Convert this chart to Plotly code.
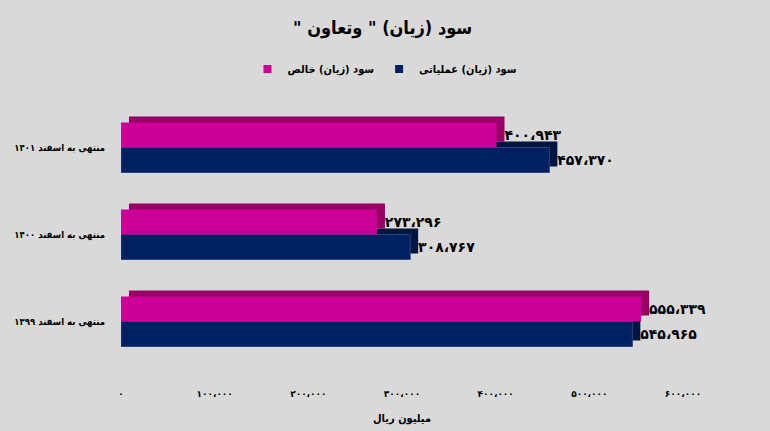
import plotly.graph_objects as go

categories = ["منتهی به اسفند ۱۳۹۹", "منتهی به اسفند ۱۴۰۰", "منتهی به اسفند ۱۴۰۱"]
operating = [545965, 308767, 457370]   # سود (زیان) عملیاتی
net = [555339, 273296, 400943]         # سود (زیان) خالص
tick_values = [0, 100000, 200000, 300000, 400000, 500000, 600000]

name_oper = "سود (زیان) عملیاتی"
name_net = "سود (زیان) خالص"
title_text = 'سود (زیان) " وتعاون "\u200f'
x_title = "میلیون ریال"

PINK = "#CC0099"
PINK_DARK = "#990066"
NAVY = "#002060"
NAVY_DARK = "#00153f"
BG = "#D9D9D9"
FONT = "DejaVu Sans"
FONT_C = "DejaVu Sans Condensed, DejaVu Sans"

def fa(n):
    s = f"{n:,}".replace(",", "،")
    return s.translate(str.maketrans("0123456789", "۰۱۲۳۴۵۶۷۸۹"))

W = 0.287      # bar thickness (category units)
DY = 0.07      # 3D depth (category units)
DX = 8500      # 3D depth (value units)

fig = go.Figure()

fig.add_trace(go.Bar(y=categories, x=operating, base=DX, orientation="h",
                     offset=-W + DY, width=W, marker=dict(color=NAVY_DARK, line=dict(width=0)),
                     showlegend=False, hoverinfo="skip"))
fig.add_trace(go.Bar(y=categories, x=operating, orientation="h",
                     offset=-W, width=W, marker=dict(color=NAVY, line=dict(width=1, color="#2a4585")),
                     text=["\u00a0" + fa(v) for v in operating], textposition="outside",
                     constraintext="none", cliponaxis=False,
                     textfont=dict(family=FONT, size=14, color="black", weight="bold"),
                     showlegend=False, name=name_oper))
fig.add_trace(go.Bar(y=categories, x=net, base=DX, orientation="h",
                     offset=DY, width=W, marker=dict(color=PINK_DARK, line=dict(width=0)),
                     showlegend=False, hoverinfo="skip"))
fig.add_trace(go.Bar(y=categories, x=net, orientation="h",
                     offset=0, width=W, marker=dict(color=PINK, line=dict(width=0)),
                     text=["\u00a0" + fa(v) for v in net], textposition="outside",
                     constraintext="none", cliponaxis=False,
                     textfont=dict(family=FONT, size=14, color="black", weight="bold"),
                     showlegend=False, name=name_net))

fig.add_trace(go.Scatter(x=[None], y=[None], mode="markers", name=name_net, legendrank=1,
                         marker=dict(symbol="square", size=8, color=PINK)))
fig.add_trace(go.Scatter(x=[None], y=[None], mode="markers", name=name_oper, legendrank=2,
                         marker=dict(symbol="square", size=8, color=NAVY)))

fig.update_layout(
    width=770, height=431,
    paper_bgcolor=BG, plot_bgcolor=BG,
    barmode="overlay",
    margin=dict(l=121, r=87, t=104, b=66, autoexpand=False),
    font=dict(family=FONT, color="black"),
    title=dict(text=title_text, x=0.497, xref="container", xanchor="center",
               y=1 - 28 / 431, yref="container", yanchor="middle",
               font=dict(family=FONT_C, size=18, color="black", weight="bold")),
    legend=dict(orientation="h", x=0.5, xref="container", xanchor="center",
                y=1 - 69 / 431, yref="container", yanchor="middle",
                font=dict(family=FONT_C, size=11, color="black", weight="bold"),
                bgcolor="rgba(0,0,0,0)", itemwidth=30),
    xaxis=dict(range=[0, 600000], tickvals=tick_values, ticktext=[fa(v) for v in tick_values],
               showgrid=False, zeroline=False, showline=False, ticks="", automargin=False,
               ticklabelstandoff=22,
               tickfont=dict(family=FONT, size=9, color="black", weight="bold"),
               title=dict(text=x_title, standoff=16,
                          font=dict(family=FONT_C, size=11, color="black", weight="bold"))),
    yaxis=dict(type="category", categoryorder="array", categoryarray=categories,
               range=[-0.5, 2.5], showgrid=False, zeroline=False, showline=False, ticks="",
               automargin=False, ticklabelstandoff=15,
               tickfont=dict(family=FONT_C, size=9.5, color="black", weight="bold")),
)

fig.write_html("out.html", config={"displayModeBar": False},
               post_script="document.body.style.margin='0';document.body.style.overflow='hidden';")
